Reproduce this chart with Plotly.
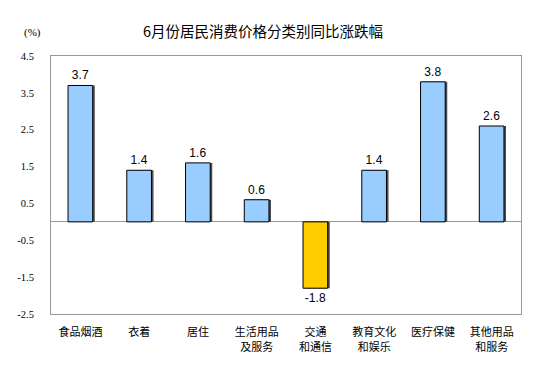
import plotly.graph_objects as go

categories = ["食品烟酒", "衣着", "居住", "生活用品<br>及服务", "交通<br>和通信", "教育文化<br>和娱乐", "医疗保健", "其他用品<br>和服务"]
values = [3.7, 1.4, 1.6, 0.6, -1.8, 1.4, 3.8, 2.6]
y_ticks = [-2.5, -1.5, -0.5, 0.5, 1.5, 2.5, 3.5, 4.5]

colors = ["#FFCC00" if v < 0 else "#99CCFF" for v in values]
bw = 0.42

fig = go.Figure()
fig.add_trace(go.Bar(
    x=categories, y=values, width=bw, offset=-bw/2 + 0.035,
    marker=dict(color="#4d4d4d", line=dict(width=0)),
    hoverinfo="skip", showlegend=False,
))
fig.add_trace(go.Bar(
    x=categories, y=values, width=bw, offset=-bw/2,
    marker=dict(color=colors, line=dict(color="#000000", width=1)),
    text=[f"{v:.1f}" for v in values], textposition="outside",
    textfont=dict(family="Liberation Sans, Arial", size=12, color="#000000"),
    cliponaxis=False, showlegend=False,
))

fig.update_layout(
    width=535, height=370,
    margin=dict(l=43, r=22, t=48, b=64, autoexpand=False),
    barmode="overlay",
    plot_bgcolor="#FFFFFF", paper_bgcolor="#FFFFFF",
    title=dict(text="6月份居民消费价格分类别同比涨跌幅", x=0.4766, xanchor="center",
               yref="container", y=0.935, yanchor="middle",
               font=dict(family="Noto Sans CJK SC", size=14.5, color="#000000")),
    annotations=[dict(text="(%)", xref="paper", yref="paper", x=-0.04, y=1.093, xanchor="center", yanchor="middle",
                      showarrow=False, font=dict(family="Liberation Serif, Times New Roman", size=11, color="#000000"))],
    font=dict(family="Noto Sans CJK SC", size=11, color="#000000"),
)
fig.update_xaxes(
    automargin=False,
    showline=True, linecolor="#999999", linewidth=1, mirror=True,
    showgrid=False, ticks="", ticklabelstandoff=8,
    tickfont=dict(family="Noto Sans CJK SC", size=11, color="#000000"),
)
fig.update_yaxes(
    automargin=False,
    range=[-2.5, 4.5], tickvals=y_ticks, ticktext=[f"{t:.1f}" for t in y_ticks],
    showline=True, linecolor="#999999", linewidth=1, mirror=True,
    showgrid=False, zeroline=True, zerolinecolor="#999999", zerolinewidth=1,
    ticks="", ticklabelstandoff=14,
    tickfont=dict(family="Liberation Serif, Times New Roman", size=10.5, color="#000000"),
)
fig.write_html("out.html")
